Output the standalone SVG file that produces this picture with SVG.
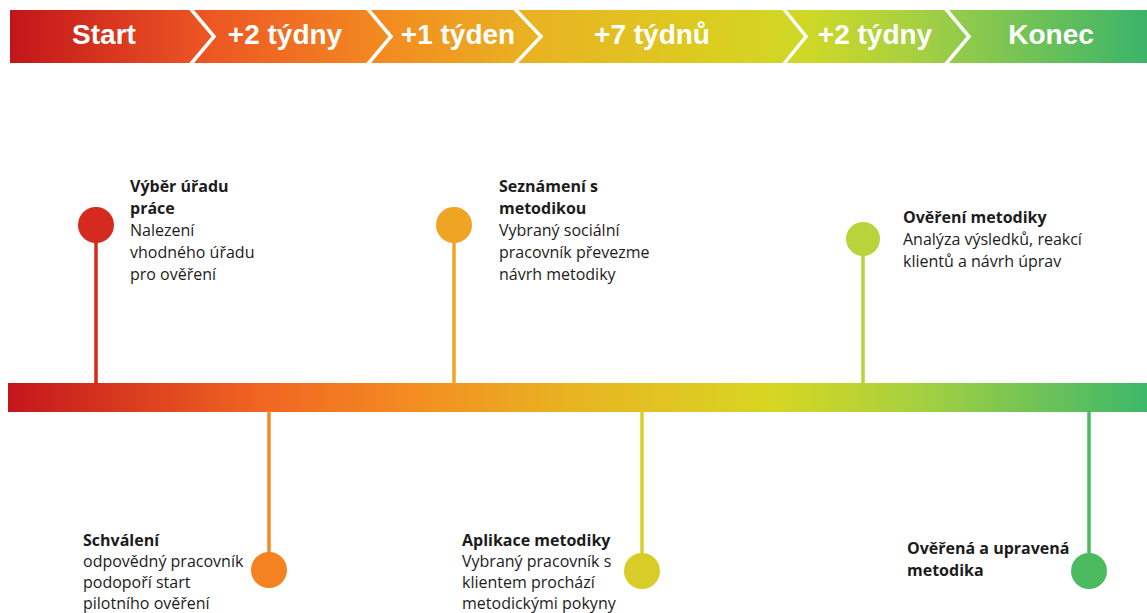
<svg xmlns="http://www.w3.org/2000/svg" width="1147" height="613" viewBox="0 0 1147 613">
<defs>
<linearGradient id="gBanner" gradientUnits="userSpaceOnUse" x1="10" y1="0" x2="1147" y2="0">
<stop offset="0" stop-color="#c2151b"/>
<stop offset="0.17" stop-color="#ec5523"/>
<stop offset="0.33" stop-color="#f38b21"/>
<stop offset="0.46" stop-color="#e9b322"/>
<stop offset="0.62" stop-color="#dbcd20"/>
<stop offset="0.70" stop-color="#cfd826"/>
<stop offset="0.80" stop-color="#a5d043"/>
<stop offset="1" stop-color="#3bb46a"/>
</linearGradient>
<linearGradient id="gBar" gradientUnits="userSpaceOnUse" x1="8" y1="0" x2="1147" y2="0">
<stop offset="0" stop-color="#c3161c"/>
<stop offset="0.22" stop-color="#f06522"/>
<stop offset="0.36" stop-color="#f38e21"/>
<stop offset="0.50" stop-color="#e8b522"/>
<stop offset="0.67" stop-color="#d7d622"/>
<stop offset="0.80" stop-color="#a6d040"/>
<stop offset="1" stop-color="#3db86a"/>
</linearGradient>
</defs>
<style>
.hdr{font-family:"Liberation Sans",Arial,sans-serif;font-weight:bold;font-size:28px;fill:#fff;text-anchor:middle}
.sep{fill:none;stroke:#fff;stroke-width:3.5}
.t{font-family:"Open Sans","Noto Sans",sans-serif;font-size:16px;fill:#1c1c1c}
.b{font-weight:bold}
.stem{stroke-width:3.5}
</style>
<rect width="1147" height="613" fill="#fff"/>
<g id="banner">
<rect x="10" y="10" width="1137" height="53" fill="url(#gBanner)"/>
<polyline class="sep" points="190,8 214,36.5 190,65"/>
<polyline class="sep" points="367,8 391,36.5 367,65"/>
<polyline class="sep" points="514,8 541,36.5 514,65"/>
<polyline class="sep" points="783,8 806,36.5 783,65"/>
<polyline class="sep" points="945,8 969,36.5 945,65"/>
<text class="hdr" x="104" y="44">Start</text>
<text class="hdr" x="285" y="44">+2 týdny</text>
<text class="hdr" x="458" y="44">+1 týden</text>
<text class="hdr" x="652" y="44">+7 týdnů</text>
<text class="hdr" x="875" y="44">+2 týdny</text>
<text class="hdr" x="1051" y="44">Konec</text>
</g>
<g id="timeline">
<rect x="8" y="383" width="1139" height="29" fill="url(#gBar)"/>
</g>
<g id="connectors">
<line class="stem" x1="96" y1="225" x2="96" y2="384" stroke="#d42a20"/>
<line class="stem" x1="454" y1="225" x2="454" y2="384" stroke="#f0a424"/>
<line class="stem" x1="863" y1="239" x2="863" y2="384" stroke="#b5d43c"/>
<line class="stem" x1="269" y1="411" x2="269" y2="570" stroke="#f38a22"/>
<line class="stem" x1="642" y1="411" x2="642" y2="571" stroke="#dccc2a"/>
<line class="stem" x1="1089" y1="411" x2="1089" y2="571" stroke="#4dbb5f"/>
</g>
<g id="n1">
<circle cx="96" cy="225" r="18" fill="#d42a20"/>
<text class="t b" x="130" y="192">Výběr úřadu</text>
<text class="t b" x="130" y="214">práce</text>
<text class="t" x="130" y="236">Nalezení</text>
<text class="t" x="130" y="258">vhodného úřadu</text>
<text class="t" x="130" y="280">pro ověření</text>
</g>
<g id="n2">
<circle cx="269" cy="570" r="18" fill="#f58220"/>
<text class="t b" x="83" y="546">Schválení</text>
<text class="t" x="83" y="567">odpovědný pracovník</text>
<text class="t" x="83" y="588">podopoří start</text>
<text class="t" x="83" y="609">pilotního ověření</text>
</g>
<g id="n3">
<circle cx="454" cy="225" r="18" fill="#f0a424"/>
<text class="t b" x="499" y="192">Seznámení s</text>
<text class="t b" x="499" y="214">metodikou</text>
<text class="t" x="499" y="236">Vybraný sociální</text>
<text class="t" x="499" y="258">pracovník převezme</text>
<text class="t" x="499" y="280">návrh metodiky</text>
</g>
<g id="n4">
<circle cx="642" cy="571" r="18" fill="#d8cc28"/>
<text class="t b" x="462" y="546">Aplikace metodiky</text>
<text class="t" x="462" y="567">Vybraný pracovník s</text>
<text class="t" x="462" y="588">klientem prochází</text>
<text class="t" x="462" y="609">metodickými pokyny</text>
</g>
<g id="n5">
<circle cx="863" cy="239" r="17" fill="#b8d43a"/>
<text class="t b" x="903" y="223">Ověření metodiky</text>
<text class="t" x="903" y="245">Analýza výsledků, reakcí</text>
<text class="t" x="903" y="267">klientů a návrh úprav</text>
</g>
<g id="n6">
<circle cx="1089" cy="571" r="18" fill="#4cbb60"/>
<text class="t b" x="907" y="554">Ověřená a upravená</text>
<text class="t b" x="907" y="576">metodika</text>
</g>
</svg>
